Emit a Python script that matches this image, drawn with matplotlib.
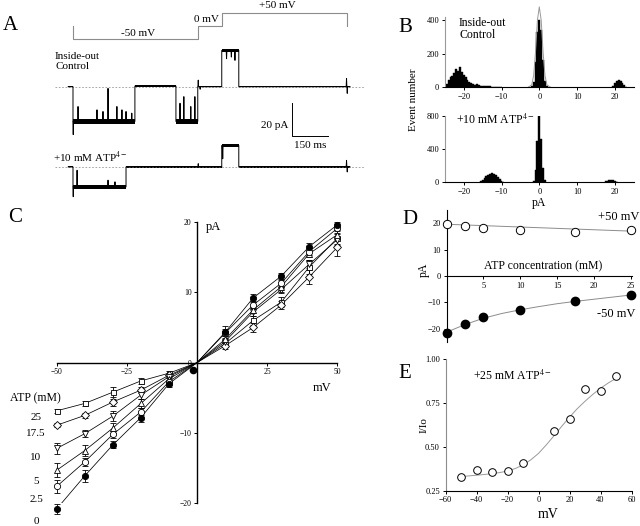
import matplotlib.pyplot as plt
from matplotlib.ticker import FormatStrFormatter

plt.rcParams['font.family'] = ['Liberation Serif', 'DejaVu Serif']
plt.rcParams['mathtext.fontset'] = 'stix'

# ---------------- data ----------------
# A: voltage protocol (ms, mV)
prot_t = [0, 0, 520, 520, 620, 620, 1140, 1140]
prot_v = [0, -50, -50, 0, 0, 50, 50, 0]

# A: single-channel traces, piecewise levels (pA) + brief events
ctrl_edges = [-20, 0, 258, 429, 520, 620, 691, 1155]
ctrl_levels = [0, -21, 0.4, -21, 0, 22, 0]
ctrl_noise = [0.3, 1.7, 0.4, 1.7, 0.3, 1.0, 0.4]
ctrl_spk_t = [1, 21, 100, 125, 146, 183, 204, 221, 245, 446, 462, 491, 508,
              522, 530, 640, 660, 675, 1140, 1143]
ctrl_spk_i = [-29, -12, -14, -15, -1, -12, -14, -15, -16, -10, -6, -12, -6,
              4, -1.5, 17, 18, 16, 5, -4]

atp_edges = [-20, 0, 221, 620, 691, 1155]
atp_levels = [0, -12, 0, 13, 0]
atp_noise = [0.3, 1.3, 0.4, 0.9, 0.4]
atp_spk_t = [1, 17, 146, 175, 522, 624, 1140, 1143]
atp_spk_i = [-18, -2, -8, -9, 2, 5, 4, -3]

# B: amplitude histograms (pA bin centres, counts)
top_bins = [-24.5, -24, -23.5, -23, -22.5, -22, -21.5, -21, -20.5, -20, -19.5,
            -19, -18.5, -18, -17.5, -17, -16.5, -16, -15.5, -15, -14.5, -14,
            -13.5, -13, -12.5, -12, -11.5, -11, -10.5, -10,
            -2, -1.5, -1, -0.5, 0, 0.5, 1, 1.5, 2,
            19.5, 20, 20.5, 21, 21.5, 22, 22.5, 23]
top_counts = [20, 45, 60, 70, 85, 110, 95, 120, 90, 75, 60,
              45, 30, 25, 20, 15, 18, 12, 10, 8, 8, 6,
              5, 5, 4, 3, 3, 2, 2, 1,
              5, 30, 150, 330, 400, 340, 160, 40, 8,
              10, 25, 35, 45, 38, 25, 12, 4]
top_fit_x = [-3, -2, -1.5, -1, -0.5, 0, 0.5, 1, 1.5, 2, 3]
top_fit_y = [0, 15, 70, 210, 400, 480, 400, 210, 70, 15, 0]

bot_bins = [-15.5, -15, -14.5, -14, -13.5, -13, -12.5, -12, -11.5, -11, -10.5,
            -10, -9.5, -1.5, -1, -0.5, 0, 0.5, 1, 1.5,
            17.5, 18, 18.5, 19, 19.5, 20, 20.5]
bot_counts = [10, 25, 50, 70, 85, 100, 110, 95, 90, 65, 40,
              20, 8, 20, 150, 500, 800, 520, 170, 25,
              10, 20, 30, 32, 25, 12, 5]

# C: I-V relations at different ATP concentrations
iv_v = [-50, -40, -30, -20, -10, 0, 10, 20, 30, 40, 50]
atp_labels = ['25', '17.5', '10', '5', '2.5', '0']
iv_i = {
    '0':    [-20.8, -16.1, -11.7, -7.8, -3.0, 0, 4.3, 9.2, 12.3, 16.5, 19.6],
    '2.5':  [-17.6, -14.1, -10.2, -7.0, -2.7, 0, 4.2, 8.2, 11.3, 15.8, 19.1],
    '5':    [-15.3, -12.5, -9.3, -5.8, -2.3, 0, 3.3, 7.5, 10.8, 15.5, 18.2],
    '10':   [-12.2, -10.1, -7.6, -4.6, -2.0, 0, 3.0, 7.2, 10.4, 14.0, 17.5],
    '17.5': [-8.9, -7.5, -5.6, -3.9, -1.8, 0, 2.4, 5.0, 8.2, 12.2, 16.4],
    '25':   [-6.85, -5.8, -4.2, -2.6, -1.5, 0, 2.7, 6.0, 8.6, 13.6, 17.7],
}
iv_err = {
    '0':    [0.7, 0.9, 0.5, 0.6, 0.4, 0, 0.5, 0.6, 0.4, 0.5, 0.4],
    '2.5':  [0.9, 0.6, 0.5, 0.5, 0.5, 0, 1.0, 0.5, 0.5, 0.5, 0.4],
    '5':    [1.0, 0.8, 0.7, 0.7, 0.4, 0, 0.5, 0.5, 0.7, 0.5, 0.6],
    '10':   [0.8, 0.5, 0.7, 0.5, 0.4, 0, 0.5, 0.5, 0.5, 0.6, 0.8],
    '17.5': [0.3, 0.3, 0.5, 0.4, 0.3, 0, 0.5, 0.7, 0.6, 1.0, 1.2],
    '25':   [0.3, 0.3, 0.7, 0.4, 0.3, 0, 0.5, 0.6, 0.7, 1.0, 0.8],
}
iv_extra_v, iv_extra_i = [-1.5], [-1.0]

# D: current vs ATP concentration
d_conc = [0, 2.5, 5, 10, 17.5, 25]
d_pos = [19.8, 19.1, 18.1, 17.5, 16.5, 17.5]
d_neg = [-21.5, -18.2, -15.7, -12.7, -9.4, -7.1]
d_fit_pos_c, d_fit_pos = [0, 25], [19.6, 17.0]
d_fit_c = [0, 2.5, 5, 7.5, 10, 12.5, 15, 17.5, 20, 22.5, 25]
d_fit_neg = [-21.3, -18.4, -16.0, -14.2, -12.8, -11.6, -10.5, -9.6, -8.8, -8.0, -7.2]

# E: relative block vs voltage
e_v = [-50, -40, -30, -20, -10, 10, 20, 30, 40, 50]
e_r = [0.330, 0.368, 0.354, 0.362, 0.406, 0.591, 0.659, 0.828, 0.816, 0.903]
e_fit_v = [-50, -45, -40, -35, -30, -25, -20, -15, -10, -5, 0, 5, 10, 15, 20,
           25, 30, 35, 40, 45, 50]
e_fit_r = [0.330, 0.334, 0.338, 0.342, 0.347, 0.353, 0.362, 0.376, 0.396,
           0.425, 0.462, 0.510, 0.562, 0.616, 0.668, 0.716, 0.758, 0.797,
           0.832, 0.862, 0.888]

# ---------------- figure ----------------
W, H = 640, 526
fig = plt.figure(figsize=(6.4, 5.26), dpi=100)


def px_axes(x0, y0, x1, y1):
    return fig.add_axes([x0 / W, 1 - y1 / H, (x1 - x0) / W, (y1 - y0) / H])


def ftext(x, y, s, **kw):
    kw.setdefault('ha', 'center')
    kw.setdefault('va', 'center')
    fig.text(x / W, 1 - y / H, s, **kw)


def build_trace(edges, levels, spk_t, spk_i):
    ts, ys = [], []
    for k, lev in enumerate(levels):
        t0, t1 = edges[k], edges[k + 1]
        ts.append(t0)
        ys.append(lev)
        for st, si in zip(spk_t, spk_i):
            if t0 < st < t1:
                ts += [st - 1.5, st, st + 1.5]
                ys += [lev, si, lev]
        ts.append(t1)
        ys.append(lev)
    return ts, ys


def draw_trace(ax, edges, levels, noise, spk_t, spk_i):
    ax.axhline(0, color='0.6', lw=0.6, ls=(0, (2, 2)))
    for k, lev in enumerate(levels):
        ax.fill_between([edges[k], edges[k + 1]], lev - noise[k], lev + noise[k],
                        color='black', lw=0)
    ts, ys = build_trace(edges, levels, spk_t, spk_i)
    ax.plot(ts, ys, color='black', lw=0.7)


tlim = (-75, 1217)

# ---- A ----
ax_p = px_axes(55, 5, 365, 47)
ax_p.plot(prot_t, prot_v, color='0.55', lw=0.8)
ax_p.set_xlim(*tlim)
ax_p.set_ylim(-79, 79)
ax_p.axis('off')

ax_c = px_axes(55, 45, 365, 145)
draw_trace(ax_c, ctrl_edges, ctrl_levels, ctrl_noise, ctrl_spk_t, ctrl_spk_i)
ax_c.plot([912, 912, 1062], [-10, -30, -30], color='black', lw=0.7)
ax_c.set_xlim(*tlim)
ax_c.set_ylim(-35.3, 25.3)
ax_c.axis('off')

ax_a = px_axes(55, 128, 365, 200)
draw_trace(ax_a, atp_edges, atp_levels, atp_noise, atp_spk_t, atp_spk_i)
ax_a.set_xlim(*tlim)
ax_a.set_ylim(-20, 23.6)
ax_a.axis('off')

ftext(10, 25, 'A', fontsize=15)
ftext(138, 33, '-50 mV', fontsize=8)
ftext(206, 19, '0 mV', fontsize=8)
ftext(277, 6, '+50 mV', fontsize=8)
ftext(55, 52, 'Inside-out\nControl', fontsize=8, ha='left', va='top',
      linespacing=1.15)
ftext(288, 125, '20 pA', fontsize=8, ha='right')
ftext(310, 146, '150 ms', fontsize=8)
ftext(53, 157, '+10 mM ATP$^{4-}$', fontsize=8, ha='left')


def style_small(ax, size=6):
    ax.tick_params(direction='out', length=2.5, width=0.7, labelsize=size, pad=1.5)
    for s in ('top', 'right'):
        ax.spines[s].set_visible(False)
    for s in ax.spines.values():
        s.set_linewidth(0.8)


# ---- B ----
axb1 = px_axes(444.8, 16.9, 633.8, 87.3)
axb1.bar(top_bins, top_counts, width=0.5, color='black', edgecolor='black', lw=0.3)
axb1.plot(top_fit_x, top_fit_y, color='0.6', lw=0.7, clip_on=False)
axb1.set_xlim(-25, 25)
axb1.set_ylim(0, 420)
axb1.set_yticks([0, 200, 400])
axb1.set_xticks([-20, -10, 0, 10, 20])
style_small(axb1)
axb1.spines['left'].set_color('0.6')

axb2 = px_axes(444.8, 115.7, 633.8, 182.3)
axb2.bar(bot_bins, bot_counts, width=0.5, color='black', edgecolor='black', lw=0.3)
axb2.set_xlim(-25, 25)
axb2.set_ylim(0, 800)
axb2.set_yticks([0, 400, 800])
axb2.set_xticks([-20, -10, 0, 10, 20])
style_small(axb2)
axb2.spines['left'].set_color('0.6')

ftext(405, 28, 'B', fontsize=15)
ftext(459, 17, 'Inside-out\nControl', fontsize=8.5, ha='left', va='top',
      linespacing=1.0)
ftext(456, 120, '+10 mM ATP$^{4-}$', fontsize=8.5, ha='left')
ftext(413, 100, 'Event number', fontsize=8, rotation=90)
ftext(539, 203, 'pA', fontsize=8.5)

# ---- C ----
axc = px_axes(56.7, 222, 337.3, 503.3)
markers = {'0': ('o', 'black', 4.5), '2.5': ('o', 'white', 4.5),
           '5': ('^', 'white', 4.5), '10': ('v', 'white', 4.5),
           '17.5': ('D', 'white', 3.6), '25': ('s', 'white', 3.6)}
for key in ['25', '17.5', '10', '5', '2.5', '0']:
    m, fc, ms = markers[key]
    vals = iv_i[key]
    axc.plot(iv_v, vals, color='black', lw=0.55, zorder=2)
    pv = [v for v in iv_v if v != 0]
    pi = [i for v, i in zip(iv_v, vals) if v != 0]
    pe = [e for v, e in zip(iv_v, iv_err[key]) if v != 0]
    axc.errorbar(pv, pi, yerr=pe, fmt=m, mfc=fc, mec='black', ms=ms, mew=0.6,
                 ecolor='black', elinewidth=0.6, capsize=2, capthick=0.6,
                 clip_on=False, zorder=3)
axc.plot(iv_extra_v, iv_extra_i, 'o', color='black', ms=4.5, zorder=3)
axc.set_xlim(-50, 50)
axc.set_ylim(-20, 20)
axc.spines['left'].set_position(('data', 0))
axc.spines['bottom'].set_position(('data', 0))
axc.set_xticks([-50, -25, 25, 50])
axc.set_yticks([-20, -10, 0, 10, 20])
style_small(axc, 5.5)
for s in ('left', 'bottom'):
    axc.spines[s].set_linewidth(1.0)

ftext(15, 218, 'C', fontsize=15)
ftext(206, 227, 'pA', fontsize=9, ha='left')
ftext(322, 388, 'mV', fontsize=9)
ftext(10, 398, 'ATP (mM)', fontsize=8.5, ha='left')
for lab, yy in zip(atp_labels, [418, 433, 457, 481, 500, 521]):
    ftext(36, yy, lab, fontsize=8)

# ---- D ----
axd = px_axes(446.5, 210, 631.5, 342)
axd.plot(d_fit_pos_c, d_fit_pos, color='0.55', lw=0.7)
axd.plot(d_fit_c, d_fit_neg, color='0.55', lw=0.7)
axd.plot(d_conc, d_pos, 'o', mfc='white', mec='black', ms=6, mew=0.7,
         clip_on=False, zorder=3)
axd.plot(d_conc, d_neg, 'o', color='black', ms=6, clip_on=False, zorder=3)
axd.set_xlim(0, 25.1)
axd.set_ylim(-25, 25)
axd.spines['bottom'].set_position(('data', 0))
axd.set_xticks([5, 10, 15, 20, 25])
axd.set_yticks([-20, -10, 0, 10, 20])
style_small(axd)

ftext(410, 220, 'D', fontsize=15)
ftext(639, 217, '+50 mV', fontsize=9, ha='right')
ftext(543, 266, 'ATP concentration (mM)', fontsize=8.5)
ftext(635, 314, '-50 mV', fontsize=9, ha='right')
ftext(424, 270, 'pA', fontsize=8.5, rotation=90)

# ---- E ----
axe = px_axes(445.5, 358.7, 631.5, 490.7)
axe.plot(e_fit_v, e_fit_r, color='0.6', lw=0.7)
axe.plot(e_v, e_r, 'o', mfc='white', mec='black', ms=5.5, mew=0.7,
         clip_on=False, zorder=3)
axe.set_xlim(-60, 60)
axe.set_ylim(0.25, 1.0)
axe.set_xticks([-60, -40, -20, 0, 20, 40, 60])
axe.set_yticks([0.25, 0.50, 0.75, 1.00])
axe.yaxis.set_major_formatter(FormatStrFormatter('%.2f'))
style_small(axe)
axe.spines['left'].set_color('0.55')

ftext(405, 373, 'E', fontsize=15)
ftext(512, 376, '+25 mM ATP$^{4-}$', fontsize=8.5)
ftext(424, 425, 'I/Io', fontsize=8, rotation=90)
ftext(548, 515, 'mV', fontsize=10)

fig.savefig('out.png', dpi=100)
